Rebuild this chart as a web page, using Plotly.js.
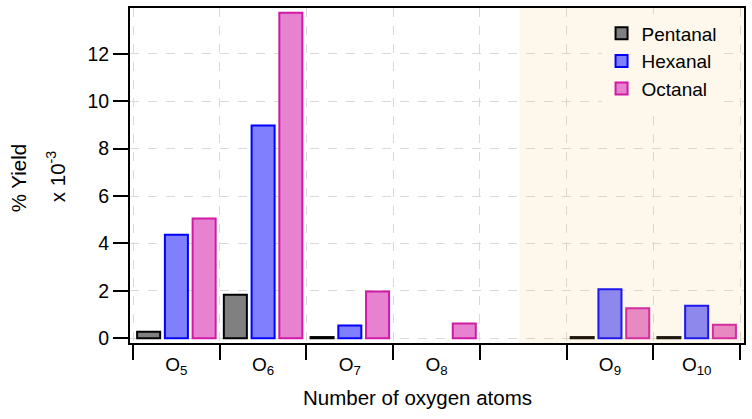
<!DOCTYPE html>
<html>
<head>
<meta charset="utf-8">
<script src="https://cdn.plot.ly/plotly-3.0.1.min.js"></script>
<style>html,body{margin:0;padding:0;background:#fff}#chart{width:752px;height:419px}</style>
</head>
<body>
<div id="chart"></div>
<script>
const categories = ["O<sub>5</sub>", "O<sub>6</sub>", "O<sub>7</sub>", "O<sub>8</sub>", " ", "O<sub>9</sub>", "O<sub>10</sub>"];
const pentanal = [0.27, 1.84, 0.05, null, null, 0.05, 0.05];
const hexanal  = [4.37, 8.97, 0.54, null, null, 2.07, 1.37];
const octanal  = [5.05, 13.73, 1.97, 0.62, null, 1.27, 0.57];
const seriesNames = ["Pentanal", "Hexanal", "Octanal"];
const yTicks = [0, 2, 4, 6, 8, 10, 12];

const F = (s) => ({family: "Liberation Sans, Arial, sans-serif", size: s, color: "#000"});
const fills = ["#808080", "#8080FF", "#E682CF"];
const lines = ["#000000", "#0000FF", "#D01AA6"];
const data = [pentanal, hexanal, octanal].map((v, i) => ({
  type: "bar", x: categories, y: v, name: seriesNames[i],
  marker: {color: fills[i], line: {color: lines[i], width: 2}},
  hoverinfo: "skip"
}));

const layout = {
  width: 752, height: 419,
  margin: {l: 130, r: 8, t: 8, b: 76},
  paper_bgcolor: "#fff", plot_bgcolor: "#fff",
  font: F(19),
  barmode: "group", bargap: 0.04, bargroupgap: 0.17,
  xaxis: {
    type: "category", categoryorder: "array", categoryarray: categories,
    range: [-0.535, 6.546], tickson: "boundaries",
    ticks: "outside", ticklen: 15, tickwidth: 2, tickcolor: "#000",
    ticklabelstandoff: 3,
    showline: true, linecolor: "#000", linewidth: 2, mirror: true,
    showgrid: true, gridcolor: "#d9d9d9", griddash: "dash", gridwidth: 1,
    tickfont: F(19), zeroline: false
  },
  yaxis: {
    range: [-0.2, 13.93], tickvals: yTicks, ticktext: yTicks.map(String),
    ticks: "outside", ticklen: 15, tickwidth: 2, tickcolor: "#000",
    showline: true, linecolor: "#000", linewidth: 2, mirror: true,
    showgrid: true, gridcolor: "#d9d9d9", griddash: "dash", gridwidth: 1,
    zeroline: false, tickfont: F(19.5)
  },
  shapes: [{
    type: "rect", xref: "x", yref: "paper", x0: 3.96, x1: 6.546, y0: 0, y1: 1,
    fillcolor: "rgba(250,200,100,0.12)", line: {width: 0}, layer: "above"
  }],
  annotations: [
    {text: "Number of oxygen atoms", xref: "paper", yref: "paper", x: 0.468, y: -0.164, showarrow: false, font: F(20.5), xanchor: "center", yanchor: "middle"},
    {text: "% Yield", xref: "paper", yref: "paper", x: -0.182, y: 0.4925, textangle: -90, showarrow: false, font: F(20.5), xanchor: "center", yanchor: "middle"},
    {text: "x 10<sup>-3</sup>", xref: "paper", yref: "paper", x: -0.121, y: 0.497, textangle: -90, showarrow: false, font: F(20.5), xanchor: "center", yanchor: "middle"}
  ],
  legend: {
    x: 0.768, y: 0.981, xanchor: "left", yanchor: "top",
    bgcolor: "#FEF8EC", borderwidth: 0, font: F(19), tracegroupgap: 0
  },
  showlegend: true
};

Plotly.newPlot("chart", data, layout, {displayModeBar: false, staticPlot: true});
</script>
</body>
</html>
